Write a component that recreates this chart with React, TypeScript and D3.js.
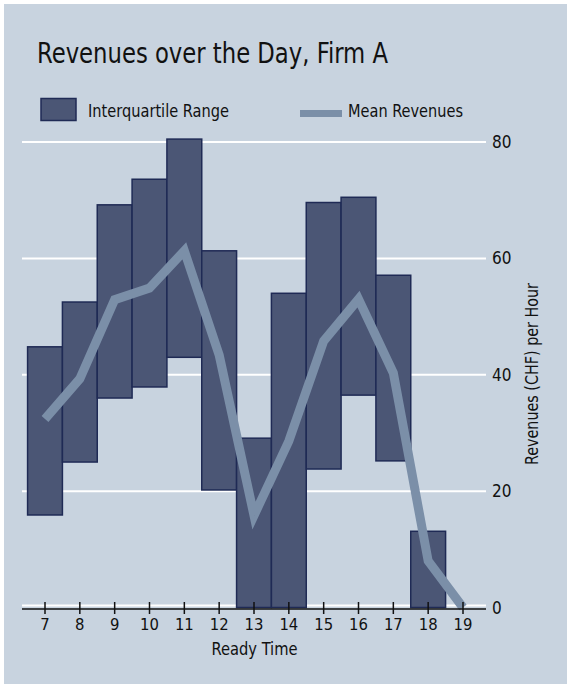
import React from "react";
import * as d3 from "d3";

const hours = [7, 8, 9, 10, 11, 12, 13, 14, 15, 16, 17, 18, 19];
const q1 = [15.9, 25.0, 36.0, 37.9, 43.0, 20.2, 0, 0, 23.8, 36.5, 25.2, 0, null];
const q3 = [44.8, 52.5, 69.2, 73.6, 80.5, 61.3, 29.1, 54.0, 69.6, 70.5, 57.1, 13.1, null];
const meanRev = [32.4, 39.3, 52.9, 54.9, 61.3, 43.4, 15.8, 28.6, 45.8, 53.0, 40.3, 8.0, 0];
const yTicks = [0, 20, 40, 60, 80];

const W = 567;
const H = 686;
const FONT = "'Liberation Sans Narrow', 'DejaVu Sans Condensed', 'Roboto Condensed', 'Arial Narrow', 'Liberation Sans', sans-serif";
const BG = "#c8d3df";
const BAR_FILL = "#4b5675";
const BAR_STROKE = "#1f2a55";
const LINE = "#7b8fa8";

export default function App() {
  const x = d3.scaleLinear().domain([7, 19]).range([45, 463]);
  const y = d3.scaleLinear().domain([0, 80]).range([607.5, 142]);
  const bw = x(8) - x(7);

  const lineGen = d3
    .line<number>()
    .x((_, i) => x(hours[i]))
    .y((d) => y(d));

  return (
    <svg
      width={W}
      height={H}
      style={{ position: "absolute", left: 0, top: 0, fontFamily: FONT }}
    >
      <rect x={0} y={0} width={W} height={H} fill="#ffffff" />
      <rect x={4} y={4} width={W - 4} height={680} fill={BG} />

      <text x={37} y={63} fontSize={28} fill="#111" textLength={351} lengthAdjust="spacingAndGlyphs">
        Revenues over the Day, Firm A
      </text>

      {/* legend */}
      <rect x={41} y={98.5} width={35} height={22} fill={BAR_FILL} stroke={BAR_STROKE} strokeWidth={1.5} />
      <text x={88} y={116.5} fontSize={18} fill="#111" textLength={141} lengthAdjust="spacingAndGlyphs">
        Interquartile Range
      </text>
      <line x1={300} x2={342} y1={113.5} y2={113.5} stroke={LINE} strokeWidth={7} />
      <text x={348} y={116.5} fontSize={18} fill="#111" textLength={115} lengthAdjust="spacingAndGlyphs">
        Mean Revenues
      </text>

      {/* gridlines */}
      {yTicks.map((t) => (
        <g key={t}>
          <line x1={22} x2={486} y1={y(t) - (t === 0 ? 2 : 0)} y2={y(t) - (t === 0 ? 2 : 0)} stroke="#ffffff" strokeWidth={2} />
          <text x={492} y={y(t) + 6} fontSize={17} fill="#111">
            {t}
          </text>
        </g>
      ))}

      {/* bars */}
      {hours.map((h, i) =>
        q1[i] == null || q3[i] == null ? null : (
          <rect
            key={h}
            x={x(h) - bw / 2}
            y={y(q3[i] as number)}
            width={bw}
            height={y(q1[i] as number) - y(q3[i] as number)}
            fill={BAR_FILL}
            stroke={BAR_STROKE}
            strokeWidth={1.5}
          />
        )
      )}

      {/* mean line */}
      <path d={lineGen(meanRev) || ""} fill="none" stroke={LINE} strokeWidth={9} />

      {/* x axis */}
      <line x1={22} x2={486} y1={609} y2={609} stroke="#111" strokeWidth={1.5} />
      {hours.map((h) => (
        <g key={h}>
          <line x1={x(h)} x2={x(h)} y1={602} y2={614} stroke="#111" strokeWidth={1.5} />
          <text x={x(h)} y={630} fontSize={16.5} fill="#111" textAnchor="middle">
            {h}
          </text>
        </g>
      ))}
      <text x={254.5} y={655} fontSize={18} fill="#111" textAnchor="middle" textLength={86} lengthAdjust="spacingAndGlyphs">
        Ready Time
      </text>

      <text
        transform={`translate(538, 374) rotate(-90)`}
        fontSize={17}
        fill="#111"
        textAnchor="middle"
        textLength={182}
        lengthAdjust="spacingAndGlyphs"
      >
        Revenues (CHF) per Hour
      </text>
    </svg>
  );
}
